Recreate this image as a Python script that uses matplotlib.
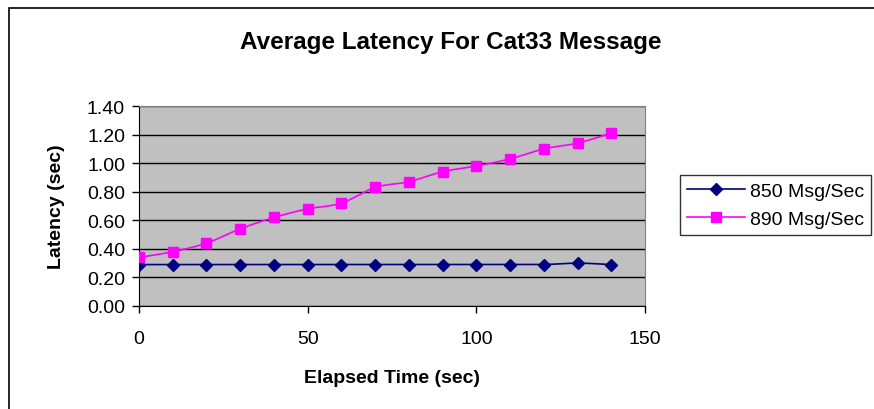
import numpy as np
import matplotlib
matplotlib.use("Agg")
import matplotlib.pyplot as plt
from matplotlib.patches import Rectangle
from matplotlib.lines import Line2D

plt.rcParams['font.family'] = ['Liberation Sans', 'DejaVu Sans']

# data
elapsed = [0, 10, 20, 30, 40, 50, 60, 70, 80, 90, 100, 110, 120, 130, 140]
lat_850 = [0.29, 0.29, 0.29, 0.29, 0.29, 0.29, 0.29, 0.29, 0.29, 0.29, 0.29, 0.29, 0.29, 0.30, 0.29]
lat_890 = [0.34, 0.38, 0.44, 0.54, 0.62, 0.68, 0.72, 0.83, 0.87, 0.94, 0.98, 1.03, 1.10, 1.14, 1.21]
y_ticks = [0.0, 0.2, 0.4, 0.6, 0.8, 1.0, 1.2, 1.4]
x_ticks = [0, 50, 100, 150]
series_names = ['850 Msg/Sec', '890 Msg/Sec']


def smooth(x, y, n=20):
    # catmull-rom curve through the points, like excel's smoothed line
    x = np.asarray(x, float)
    y = np.asarray(y, float)
    px = np.concatenate([[2 * x[0] - x[1]], x, [2 * x[-1] - x[-2]]])
    py = np.concatenate([[2 * y[0] - y[1]], y, [2 * y[-1] - y[-2]]])
    xs, ys = [], []
    t = np.linspace(0, 1, n, endpoint=False)
    for i in range(1, len(px) - 2):
        for p, out in ((px, xs), (py, ys)):
            p0, p1, p2, p3 = p[i - 1], p[i], p[i + 1], p[i + 2]
            out.extend(0.5 * ((2 * p1) + (-p0 + p2) * t
                              + (2 * p0 - 5 * p1 + 4 * p2 - p3) * t ** 2
                              + (-p0 + 3 * p1 - 3 * p2 + p3) * t ** 3))
    xs.append(x[-1])
    ys.append(y[-1])
    return xs, ys


fig = plt.figure(figsize=(8.74, 4.10), dpi=100)
fig.patches.append(Rectangle((9 / 874, -0.1), 1.0, (410 - 9) / 410 + 0.1,
                             transform=fig.transFigure, fill=False,
                             edgecolor='black', linewidth=1.2))

ax = fig.add_axes([139 / 874, 103 / 410, 506 / 874, 200 / 410])
ax.set_facecolor('#c0c0c0')

sx, sy = smooth(elapsed, lat_850)
ax.plot(sx, sy, color='#000080', linewidth=1.2, zorder=3)
ax.plot(elapsed, lat_850, linestyle='none', marker='D', markersize=6.5,
        color='#000080', zorder=4)
sx, sy = smooth(elapsed, lat_890)
ax.plot(sx, sy, color='#ff00ff', linewidth=1.2, zorder=3)
ax.plot(elapsed, lat_890, linestyle='none', marker='s', markersize=7.5,
        color='#ff00ff', zorder=4)

ax.set_xlim(0, 150)
ax.set_ylim(0, 1.4)
ax.set_xticks(x_ticks)
ax.set_yticks(y_ticks)
ax.set_yticklabels([f'{v:.2f}' for v in y_ticks])
ax.yaxis.grid(True, color='black', linewidth=1.0)
ax.set_axisbelow(True)
ax.tick_params(axis='both', direction='out', length=5, width=1,
               labelsize=14, color='black')
ax.tick_params(axis='x', pad=12)
ax.tick_params(axis='y', pad=5)
for s in ['top', 'right']:
    ax.spines[s].set_color('#808080')
for s in ['left', 'bottom']:
    ax.spines[s].set_color('black')

ax.set_xlabel('Elapsed Time (sec)', fontsize=14, fontweight='bold', labelpad=16)
ax.set_ylabel('Latency (sec)', fontsize=14, fontweight='bold', labelpad=16)
fig.text(451 / 874, 1 - 42 / 410, 'Average Latency For Cat33 Message',
         ha='center', va='center', fontsize=17.5, fontweight='bold')

h1 = Line2D([], [], color='#000080', marker='D', markersize=6.5, linewidth=1.2)
h2 = Line2D([], [], color='#ff00ff', marker='s', markersize=7.5, linewidth=1.2)
leg = fig.legend([h1, h2], series_names, fontsize=14,
                 loc='center left', bbox_to_anchor=(680 / 874, 1 - 206 / 410),
                 frameon=True, fancybox=False, edgecolor='black',
                 borderpad=0.35, borderaxespad=0, handlelength=3.0,
                 handletextpad=0.25, labelspacing=0.55)
leg.get_frame().set_linewidth(1.0)

fig.savefig('out.png', dpi=100)
